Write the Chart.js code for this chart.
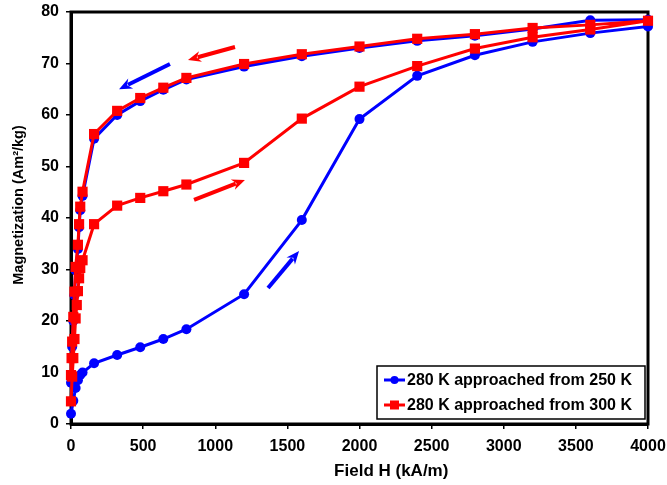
<!DOCTYPE html>
<html>
<head>
<meta charset="utf-8">
<script src="https://cdn.jsdelivr.net/npm/chart.js@4.4.1/dist/chart.umd.min.js"></script>
<style>
    html, body { margin: 0; padding: 0; background: #fff; }
    #wrap { width: 667px; height: 485px; }
</style>
</head>
<body>
<div id="wrap"><canvas id="magChart" width="667" height="485"></canvas></div>
<script>
// 280 K approached from 250 K: field up to 4000 kA/m and back down
const blueField = [0, 16, 32, 48, 64, 80, 160, 320, 480, 640, 800, 1200, 1600, 2000, 2400, 2800, 3200, 3600, 4000,
                   4000, 3600, 3200, 2800, 2400, 2000, 1600, 1200, 800, 640, 480, 320, 160, 80, 64, 56, 48, 32, 24, 16, 8, 0];
const blueMag = [2.0, 4.5, 7.0, 8.5, 9.5, 10.0, 11.8, 13.4, 14.9, 16.5, 18.4, 25.2, 39.6, 59.2, 67.6, 71.6, 74.2, 75.9, 77.2,
                 78.5, 78.4, 76.7, 75.4, 74.4, 73.0, 71.4, 69.4, 66.9, 64.9, 62.7, 60.0, 55.4, 44.3, 41.5, 38.2, 34.0, 29.8, 25.0, 20.0, 15.0, 8.0];

// 280 K approached from 300 K
const redField = [0, 8, 16, 24, 32, 40, 48, 56, 64, 80, 160, 320, 480, 640, 800, 1200, 1600, 2000, 2400, 2800, 3200, 3600, 4000,
                  3600, 3200, 2800, 2400, 2000, 1600, 1200, 800, 640, 480, 320, 160, 80, 64, 56, 48, 32, 24, 16, 8, 4, 0];
const redMag = [4.4, 9.2, 12.8, 16.5, 20.5, 23.1, 25.8, 28.3, 30.3, 31.8, 38.8, 42.4, 43.9, 45.2, 46.5, 50.7, 59.3, 65.5, 69.5, 72.9, 75.1, 76.6, 78.3,
                77.5, 76.9, 75.7, 74.8, 73.3, 71.8, 69.9, 67.2, 65.3, 63.3, 60.8, 56.3, 45.1, 42.2, 38.8, 34.8, 30.5, 25.7, 20.8, 16.0, 12.8, 9.5];

const seriesLabels = ['280 K approached from 250 K', '280 K approached from 300 K'];
const xTitle = 'Field H (kA/m)';
const yTitle = 'Magnetization (Am\u00B2/kg)';

const BLUE = '#0000ff';
const RED = '#ff0000';
const FONT = "'Liberation Sans', Arial, sans-serif";

// direction arrows, endpoints in (field, magnetization)
const arrows = [
    { from: [1137, 73.2], to: [811, 70.7], color: RED },
    { from: [686, 69.9], to: [333, 65.0], color: BLUE },
    { from: [853, 43.5], to: [1206, 47.4], color: RED },
    { from: [1366, 26.4], to: [1581, 33.6], color: BLUE }
];

function toPoints(xs, ys) {
    return xs.map((x, i) => ({ x: x, y: ys[i] }));
}

function drawArrow(ctx, x1, y1, x2, y2, color) {
    const ang = Math.atan2(y2 - y1, x2 - x1);
    const head = 13, half = 5.5;
    const bx = x2 - head * Math.cos(ang);
    const by = y2 - head * Math.sin(ang);
    ctx.strokeStyle = color;
    ctx.fillStyle = color;
    ctx.lineWidth = 4;
    ctx.beginPath();
    ctx.moveTo(x1, y1);
    ctx.lineTo(bx + 3 * Math.cos(ang), by + 3 * Math.sin(ang));
    ctx.stroke();
    ctx.beginPath();
    ctx.moveTo(x2, y2);
    ctx.lineTo(bx + half * Math.sin(ang), by - half * Math.cos(ang));
    ctx.lineTo(bx + 4 * Math.cos(ang), by + 4 * Math.sin(ang));
    ctx.lineTo(bx - half * Math.sin(ang), by + half * Math.cos(ang));
    ctx.closePath();
    ctx.fill();
}

// plot frame, drawn under the data
const framePlugin = {
    id: 'frame',
    beforeDatasetsDraw(chart) {
        const { ctx, chartArea: a } = chart;
        ctx.save();
        ctx.strokeStyle = '#000';
        ctx.lineWidth = 3;
        ctx.strokeRect(a.left, a.top, a.right - a.left, a.bottom - a.top);
        ctx.restore();
    }
};

const arrowPlugin = {
    id: 'arrows',
    afterDatasetsDraw(chart) {
        const { ctx, scales } = chart;
        ctx.save();
        arrows.forEach(ar => {
            drawArrow(ctx,
                scales.x.getPixelForValue(ar.from[0]), scales.y.getPixelForValue(ar.from[1]),
                scales.x.getPixelForValue(ar.to[0]), scales.y.getPixelForValue(ar.to[1]),
                ar.color);
        });
        ctx.restore();
    }
};

// boxed legend in the lower right corner + axis titles
const legendBoxPlugin = {
    id: 'legendBox',
    afterDraw(chart) {
        const { ctx, chartArea: a } = chart;
        const right = a.right - 3, bottom = a.bottom - 5;
        const w = 268, h = 53;
        const left = right - w, top = bottom - h;
        ctx.save();
        ctx.fillStyle = '#fff';
        ctx.fillRect(left, top, w, h);
        ctx.strokeStyle = '#000';
        ctx.lineWidth = 1.5;
        ctx.strokeRect(left, top, w, h);

        ctx.font = 'bold 16px ' + FONT;
        ctx.textBaseline = 'middle';
        ctx.textAlign = 'left';
        chart.data.datasets.forEach((ds, i) => {
            const y = top + 14 + i * 25;
            ctx.strokeStyle = ds.borderColor;
            ctx.lineWidth = 3;
            ctx.beginPath();
            ctx.moveTo(left + 7, y);
            ctx.lineTo(left + 28, y);
            ctx.stroke();
            ctx.fillStyle = ds.borderColor;
            if (ds.pointStyle === 'rect') {
                ctx.fillRect(left + 13, y - 4.5, 9, 9);
            } else {
                ctx.beginPath();
                ctx.arc(left + 17.5, y, 4, 0, Math.PI * 2);
                ctx.fill();
            }
            ctx.fillStyle = '#000';
            ctx.fillText(seriesLabels[i], left + 30, y + 1);
        });

        // axis titles
        ctx.fillStyle = '#000';
        ctx.textAlign = 'center';
        ctx.font = 'bold 17px ' + FONT;
        ctx.fillText(xTitle, a.left + (a.right - a.left) * 0.555, 471);
        ctx.translate(19, 205);
        ctx.rotate(-Math.PI / 2);
        ctx.font = 'bold 14.5px ' + FONT;
        ctx.fillText(yTitle, 0, 0);
        ctx.restore();
    }
};

new Chart(document.getElementById('magChart'), {
    type: 'scatter',
    data: {
        datasets: [
            {
                label: seriesLabels[0],
                data: toPoints(blueField, blueMag),
                showLine: true,
                borderColor: BLUE,
                backgroundColor: BLUE,
                borderWidth: 3,
                pointStyle: 'circle',
                pointRadius: 5,
                pointBorderWidth: 0,
                clip: false,
                order: 1
            },
            {
                label: seriesLabels[1],
                data: toPoints(redField, redMag),
                showLine: true,
                borderColor: RED,
                backgroundColor: RED,
                borderWidth: 3,
                pointStyle: 'rect',
                pointRadius: 7.2,
                pointBorderWidth: 0,
                clip: false,
                order: 0
            }
        ]
    },
    options: {
        responsive: false,
        animation: false,
        devicePixelRatio: 1,
        layout: { padding: { left: 0, top: 12, right: 19, bottom: 0 } },
        plugins: {
            legend: { display: false },
            tooltip: { enabled: false }
        },
        scales: {
            x: {
                type: 'linear',
                min: 0,
                max: 4000,
                ticks: {
                    stepSize: 500,
                    padding: 8,
                    color: '#000',
                    font: { family: FONT, size: 16, weight: 'bold' },
                    callback: v => String(v)
                },
                grid: { drawOnChartArea: false, drawTicks: true, tickLength: 5, color: '#000', lineWidth: 1.5 },
                border: { display: true, color: '#000', width: 3 },
                afterFit(scale) {
                    scale.height = 61;
                    scale.paddingLeft = 0;
                    scale.paddingRight = 0;
                }
            },
            y: {
                min: 0,
                max: 80,
                ticks: {
                    stepSize: 10,
                    padding: 7,
                    color: '#000',
                    font: { family: FONT, size: 16, weight: 'bold' },
                    callback: v => String(v)
                },
                grid: { drawOnChartArea: false, drawTicks: true, tickLength: 5, color: '#000', lineWidth: 1.5 },
                border: { display: true, color: '#000', width: 3 },
                afterFit(scale) {
                    scale.width = 71;
                    scale.paddingTop = 0;
                    scale.paddingBottom = 0;
                }
            }
        }
    },
    plugins: [framePlugin, arrowPlugin, legendBoxPlugin]
});
</script>
</body>
</html>
